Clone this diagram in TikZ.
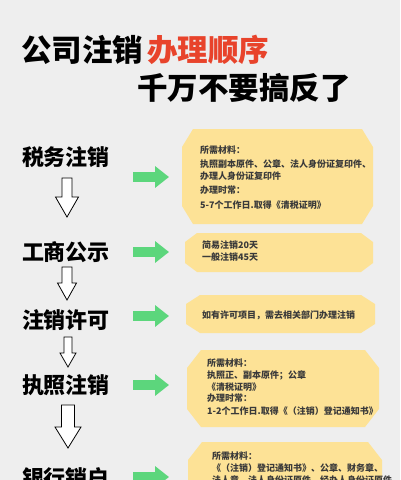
\documentclass[tikz,border=0pt]{standalone}
\usepackage{fontspec}
\newfontfamily\cjk{Noto Sans CJK SC}
\usetikzlibrary{arrows.meta}
\definecolor{bgc}{HTML}{EEEEEE}
\definecolor{boxc}{HTML}{FDE296}
\definecolor{grn}{HTML}{5CD67C}
\definecolor{redt}{HTML}{E8432B}
\definecolor{txtc}{HTML}{3A3A3A}
\newcommand\chbox[7]{%
  \fill[boxfill] (#2+#6,#3) -- (#4-#6,#3) -- (#4,#3+#7) -- (#4,#5-#7) -- (#4-#6,#5) -- (#2+#6,#5) -- (#2,#5-#7) -- (#2,#3+#7) -- cycle;
  \coordinate (#1) at ({(#2+#4)/2},{(#3+#5)/2});}
\newcommand\wdarr[6]{%
  \draw[warr] (#1-#4,#2) -- (#1+#4,#2) -- (#1+#4,#3-#6) -- (#1+#5,#3-#6) -- (#1,#3) -- (#1-#5,#3-#6) -- (#1-#4,#3-#6) -- cycle;}
\begin{document}
\begin{tikzpicture}[x=1pt,y=-1pt,
  titlef/.style={font=\cjk\bfseries\fontsize{30.5}{31}\selectfont, anchor=west, inner sep=0},
  lbl/.style={font=\cjk\bfseries\fontsize{22}{22}\selectfont, inner sep=0},
  txt/.style={font=\cjk\bfseries\fontsize{9}{10}\selectfont, text=txtc, anchor=west, inner sep=0},
  boxfill/.style={fill=boxc},
  warr/.style={fill=white, draw=black, line width=0.8pt, line join=miter},
  garrow/.style={draw=grn, line width=10pt, -{Triangle[width=21pt,length=14pt]}}]
\useasboundingbox (0,0) rectangle (400,480);
\clip (0,0) rectangle (400,480);
\fill[bgc] (0,0) rectangle (400,480);

% title
\node[titlef] (t1) at (21,50) {公司注销\hspace{4pt}\textcolor{redt}{办理顺序}};
\node[titlef] (t2) at (137,88) {千万不要搞反了};

% step labels
\node[lbl] (l1) at (66,157) {税务注销};
\node[lbl] (l2) at (66,252) {工商公示};
\node[lbl] (l3) at (66,320) {注销许可};
\node[lbl] (l4) at (66,385) {执照注销};
\node[lbl] (l5) at (66,478) {银行销户};

% white down arrows
\wdarr{67}{178}{217}{5}{11.5}{20}
\wdarr{67}{267}{300}{5}{9.5}{17}
\wdarr{68}{337}{367}{4}{8}{14}
\wdarr{68}{405}{448}{6.5}{13}{21}

% boxes
\chbox{b1}{182}{129}{373}{224}{11}{18}
\chbox{b2}{185}{233}{373}{272}{12}{9}
\chbox{b3}{186}{295}{375}{333}{14}{9}
\chbox{b4}{187}{350}{379}{427}{14}{18}
\chbox{b5}{188}{442}{382}{540}{14}{18}

% green arrows
\coordinate (g1s) at (133,177); \coordinate (g1e) at (169,177);
\coordinate (g2s) at (133,252); \coordinate (g2e) at (169,252);
\coordinate (g3s) at (133,316); \coordinate (g3e) at (169,316);
\coordinate (g4s) at (133,385); \coordinate (g4e) at (169,385);
\coordinate (g5s) at (133,477); \coordinate (g5e) at (169,477);
\draw[garrow] (g1s) -- (g1e);
\draw[garrow] (g2s) -- (g2e);
\draw[garrow] (g3s) -- (g3e);
\draw[garrow] (g4s) -- (g4e);
\draw[garrow] (g5s) -- (g5e);

% box texts
\node[txt] (a1) at (200,150) {所需材料：};
\node[txt] (a2) at (200,164) {执照副本原件、公章、法人身份证复印件、};
\node[txt] (a3) at (200,176) {办理人身份证复印件};
\node[txt] (a4) at (200,190) {办理时常：};
\node[txt] (a5) at (200,205) {5-7个工作日.取得《清税证明》};

\node[txt] (c1) at (202,245) {简易注销20天};
\node[txt] (c2) at (202,257) {一般注销45天};

\node[txt] (d1) at (202,315) {如有许可项目，需去相关部门办理注销};

\node[txt] (e1) at (207,363) {所需材料：};
\node[txt] (e2) at (207,375) {执照正、副本原件；公章};
\node[txt] (e3) at (207,387) {《清税证明》};
\node[txt] (e4) at (207,398) {办理时常：};
\node[txt] (e5) at (207,411) {1-2个工作日.取得《（注销）登记通知书》};

\node[txt] (f1) at (212,456) {所需材料：};
\node[txt] (f2) at (212,468) {《（注销）登记通知书》、公章、财务章、};
\node[txt] (f3) at (212,480) {法人章、法人身份证原件、经办人身份证原件};
\end{tikzpicture}
\end{document}
